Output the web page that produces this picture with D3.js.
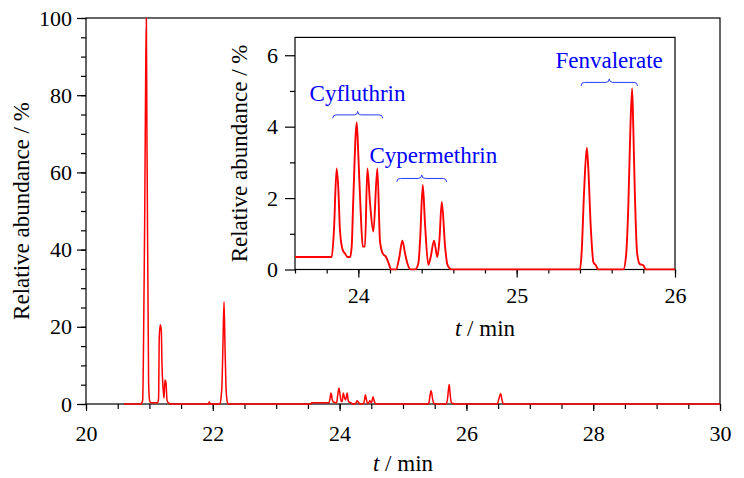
<!DOCTYPE html>
<html>
<head>
<meta charset="utf-8">
<script src="https://cdn.jsdelivr.net/npm/d3@7"></script>
<style>
  html, body { margin: 0; padding: 0; background: #fff; }
</style>
</head>
<body>
<svg id="chart" width="744" height="478" font-family="Liberation Serif" style="font-family: 'Liberation Serif'"></svg>
<script>
// ---- data ----
const retentionTime = [
  20.60, 20.87, 20.878, 20.894, 20.910, 20.925, 20.941, 20.952, 20.962, 20.978, 20.988, 21.004, 21.02,
  21.13, 21.145, 21.156, 21.172, 21.188, 21.198, 21.214, 21.23, 21.246, 21.262, 21.278, 21.30, 21.35,
  21.93, 21.945, 21.96,
  22.114, 22.129, 22.145, 22.161, 22.177, 22.192, 22.208, 22.224, 22.24,
  23.55, 23.56, 23.832, 23.846, 23.863, 23.874, 23.884, 23.901, 23.916, 23.931, 23.948, 23.958, 23.968,
  23.990, 24.000, 24.015, 24.028, 24.042, 24.057, 24.074, 24.095, 24.120, 24.137, 24.154, 24.175, 24.192, 24.207,
  24.238, 24.259, 24.278, 24.295, 24.310, 24.331, 24.358, 24.379, 24.390, 24.407, 24.421, 24.442, 24.457,
  24.478, 24.499, 24.512, 24.527, 24.548, 24.563, 24.590,
  25.400, 25.410, 25.426, 25.443, 25.452, 25.468, 25.485, 25.500, 25.515,
  25.674, 25.690, 25.705, 25.716, 25.729, 25.736, 25.746, 25.761, 25.778, 25.800, 25.815,
  26.48, 26.495, 26.515, 26.54, 26.56, 26.58, 26.60, 30.00
];
const abundance = [
  0, 0, 0.2, 1, 19.7, 46.4, 84.8, 100, 67, 27.8, 5.4, 0.8, 0.3,
  0.3, 1.5, 17.4, 20.5, 19, 10.6, 4.5, 1.5, 6.2, 5.4, 1, 0.3, 0,
  0, 0.5, 0,
  0, 1.5, 5, 16, 26.5, 15.3, 4.5, 1, 0,
  0, 0.35, 0.35, 1.1, 2.83, 2.23, 1.1, 0.55, 0.45, 0.35, 0.35, 0.64, 1.95,
  4.12, 3.2, 1.6, 0.64, 0.64, 2.83, 1.85, 1.06, 2.83, 0.78, 0.45, 0.35, 0.17, 0,
  0, 0.35, 0.81, 0.45, 0.17, 0, 0, 0.17, 0.81, 2.37, 1.29, 0.13, 0.35,
  0.81, 0.35, 0.81, 1.89, 0.64, 0.13, 0,
  0, 0.45, 2.2, 3.41, 2.87, 1.19, 0.2, 0.12, 0,
  0, 0.35, 1.75, 3.6, 5.07, 4.08, 2.2, 0.45, 0.15, 0.12, 0,
  0, 0.3, 1.5, 2.7, 1.2, 0.1, 0, 0
];

// main axes ticks
const mainXTicks = [20, 22, 24, 26, 28, 30];
const mainYTicks = [0, 20, 40, 60, 80, 100];
// inset axes ticks
const insetXTicks = [24, 25, 26];
const insetYTicks = [0, 2, 4, 6];

// compound annotations in the inset (time ranges of each group)
const compounds = ["Cyfluthrin", "Cypermethrin", "Fenvalerate"];
const braceStart = [23.838, 24.243, 25.407];
const braceEnd   = [24.154, 24.558, 25.763];
const braceLevel = [4.33, 2.55, 5.24];
const labelTime  = [23.995, 24.474, 25.584];
const labelLevel = [4.73, 2.97, 5.64];

// ---- drawing ----
const svg = d3.select("#chart");
svg.append("rect").attr("width", 744).attr("height", 478).attr("fill", "#fff");

const series = retentionTime.map((t, i) => ({ t, v: abundance[i] }));

function txt(sel, size) {
  return sel.attr("font-family", "Liberation Serif").attr("font-size", size)
    .style("font-family", "'Liberation Serif'").style("font-size", size + "px");
}

// ===== main chart =====
const x = d3.scaleLinear().domain([20, 30]).range([86, 720]);
const y = d3.scaleLinear().domain([0, 100]).range([404, 18]);

const main = svg.append("g");

main.append("rect")
  .attr("x", x(20)).attr("y", y(100))
  .attr("width", x(30) - x(20)).attr("height", y(0) - y(100))
  .attr("fill", "none").attr("stroke", "#000").attr("stroke-width", 1.2);

function styleAxis(g, fs) {
  g.attr("font-family", "Liberation Serif").attr("font-size", fs);
  g.select(".domain").remove();
  g.selectAll(".tick line").attr("stroke", "#000").attr("stroke-width", 1.2);
  txt(g.selectAll(".tick text").attr("fill", "#000"), fs);
}

main.append("g").attr("transform", `translate(0,${y(0)})`)
  .call(d3.axisBottom(x).tickValues(d3.range(20, 30.001, 0.5)).tickSize(5).tickFormat(""))
  .call(g => styleAxis(g, 22));
main.append("g").attr("transform", `translate(0,${y(0)})`)
  .call(d3.axisBottom(x).tickValues(mainXTicks).tickSize(7).tickPadding(14).tickFormat(d3.format("d")))
  .call(g => styleAxis(g, 22));

main.append("g").attr("transform", `translate(${x(20)},0)`)
  .call(d3.axisLeft(y).tickValues(d3.range(0, 100.001, 5)).tickSize(5).tickFormat(""))
  .call(g => styleAxis(g, 22));
main.append("g").attr("transform", `translate(${x(20)},0)`)
  .call(d3.axisLeft(y).tickValues(mainYTicks).tickSize(9).tickPadding(5).tickFormat(d3.format("d")))
  .call(g => styleAxis(g, 22));

const line = d3.line().x(d => x(d.t)).y(d => y(d.v)).curve(d3.curveMonotoneX);
main.append("path").datum(series)
  .attr("d", line)
  .attr("fill", "none").attr("stroke", "#ff0000").attr("stroke-width", 1.5)
  .attr("stroke-linejoin", "round");

const xt = txt(main.append("text"), 23)
  .attr("x", (x(20) + x(30)) / 2).attr("y", 471)
  .attr("text-anchor", "middle").attr("fill", "#000");
xt.append("tspan").attr("font-style", "italic").style("font-style", "italic").text("t");
xt.append("tspan").text(" / min");

txt(main.append("text"), 23)
  .attr("transform", `translate(29,${(y(0) + y(100)) / 2}) rotate(-90)`)
  .attr("text-anchor", "middle").attr("fill", "#000")
  .text("Relative abundance / %");

// ===== inset =====
const xi = d3.scaleLinear().domain([23.6, 26]).range([295, 675]);
const yi = d3.scaleLinear().domain([0, 6.5]).range([269.5, 37.4]);

const inset = svg.append("g");
inset.append("rect")
  .attr("x", xi(23.6)).attr("y", yi(6.5))
  .attr("width", xi(26) - xi(23.6)).attr("height", yi(0) - yi(6.5))
  .attr("fill", "#fff").attr("stroke", "#000").attr("stroke-width", 1.2);

inset.append("g").attr("transform", `translate(0,${yi(0)})`)
  .call(d3.axisBottom(xi).tickValues(d3.range(23.6, 26.001, 0.2)).tickSize(4).tickFormat(""))
  .call(g => styleAxis(g, 22));
inset.append("g").attr("transform", `translate(0,${yi(0)})`)
  .call(d3.axisBottom(xi).tickValues(insetXTicks).tickSize(8).tickPadding(10).tickFormat(d3.format("d")))
  .call(g => styleAxis(g, 22));

inset.append("g").attr("transform", `translate(${xi(23.6)},0)`)
  .call(d3.axisLeft(yi).tickValues([1, 3, 5]).tickSize(5).tickFormat(""))
  .call(g => styleAxis(g, 22));
inset.append("g").attr("transform", `translate(${xi(23.6)},0)`)
  .call(d3.axisLeft(yi).tickValues(insetYTicks).tickSize(10).tickPadding(7).tickFormat(d3.format("d")))
  .call(g => styleAxis(g, 22));

svg.append("clipPath").attr("id", "insetClip")
  .append("rect")
  .attr("x", xi(23.6)).attr("y", yi(6.5))
  .attr("width", xi(26) - xi(23.6)).attr("height", yi(0) - yi(6.5) + 1);

const insetLine = d3.line().x(d => xi(d.t)).y(d => yi(d.v)).curve(d3.curveMonotoneX);
inset.append("path").datum(series.filter(d => d.t >= 23.5 && d.t <= 26.5))
  .attr("clip-path", "url(#insetClip)")
  .attr("d", insetLine)
  .attr("fill", "none").attr("stroke", "#ff0000").attr("stroke-width", 1.9)
  .attr("stroke-linejoin", "round");

const ixt = txt(inset.append("text"), 23)
  .attr("x", (xi(23.6) + xi(26)) / 2).attr("y", 336)
  .attr("text-anchor", "middle").attr("fill", "#000");
ixt.append("tspan").attr("font-style", "italic").style("font-style", "italic").text("t");
ixt.append("tspan").text(" / min");

txt(inset.append("text"), 23)
  .attr("transform", `translate(247,${(yi(0) + yi(6.5)) / 2}) rotate(-90)`)
  .attr("text-anchor", "middle").attr("fill", "#000")
  .text("Relative abundance / %");

function bracePath(x1, x2, yy) {
  const xc = (x1 + x2) / 2, h = 3.5;
  return `M${x1},${yy + h} Q${x1},${yy} ${x1 + h},${yy} L${xc - h},${yy} Q${xc},${yy} ${xc},${yy - h}` +
         ` Q${xc},${yy} ${xc + h},${yy} L${x2 - h},${yy} Q${x2},${yy} ${x2},${yy + h}`;
}
compounds.forEach((name, i) => {
  inset.append("path")
    .attr("d", bracePath(xi(braceStart[i]), xi(braceEnd[i]), yi(braceLevel[i])))
    .attr("fill", "none").attr("stroke", "#2a3cff").attr("stroke-width", 1);
  txt(inset.append("text"), 23)
    .attr("x", xi(labelTime[i])).attr("y", yi(labelLevel[i]))
    .attr("text-anchor", "middle").attr("fill", "#0000ff")
    .text(name);
});
</script>
</body>
</html>
